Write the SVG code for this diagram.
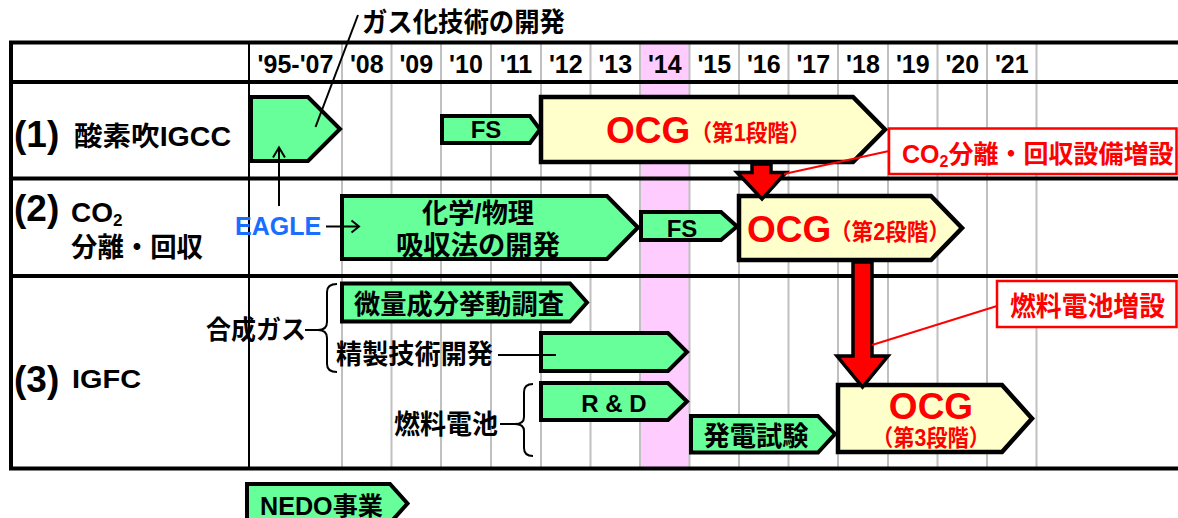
<svg xmlns="http://www.w3.org/2000/svg" width="1178" height="518" viewBox="0 0 1178 518">
<style>
.t{font-family:"Liberation Sans","Noto Sans CJK JP",sans-serif;font-weight:bold;fill:#000}
.yr{font-size:25px;text-anchor:middle}
.g{fill:#66FF99;stroke:#000;stroke-width:4}
.y{fill:#FFFFCC;stroke:#000;stroke-width:4.5}
.grid{stroke:#C0C0C0;stroke-width:2}
.rule{stroke:#000;stroke-width:4}
.red{fill:#FF0000}
.ra{fill:#FF0000;stroke:#000;stroke-width:3.5;stroke-linejoin:miter}
.cl{stroke:#FF0000;stroke-width:2;fill:none}
.bl{stroke:#000;stroke-width:2;fill:none}
.cb{fill:#fff;stroke:#FF0000;stroke-width:2.5}
</style>
<rect width="1178" height="518" fill="#fff"/>
<g id="table">
<rect x="640" y="42" width="49.5" height="426" fill="#FFCCFF"/>
<g class="grid">
<line x1="342" y1="42" x2="342" y2="468"/><line x1="391.5" y1="42" x2="391.5" y2="468"/>
<line x1="441" y1="42" x2="441" y2="468"/><line x1="491" y1="42" x2="491" y2="468"/>
<line x1="541" y1="42" x2="541" y2="468"/><line x1="590.5" y1="42" x2="590.5" y2="468"/>
<line x1="640" y1="42" x2="640" y2="468"/><line x1="689.5" y1="42" x2="689.5" y2="468"/>
<line x1="739" y1="42" x2="739" y2="468"/><line x1="788.5" y1="42" x2="788.5" y2="468"/>
<line x1="838" y1="42" x2="838" y2="468"/><line x1="888" y1="42" x2="888" y2="468"/>
<line x1="937.5" y1="42" x2="937.5" y2="468"/><line x1="987" y1="42" x2="987" y2="468"/>
<line x1="1036.5" y1="42" x2="1036.5" y2="468"/>
</g>
<line x1="249" y1="42" x2="249" y2="468" stroke="#000" stroke-width="2"/>
<g class="rule">
<line x1="9" y1="42.5" x2="1178" y2="42.5"/><line x1="11" y1="82" x2="1178" y2="82"/>
<line x1="11" y1="178.5" x2="1178" y2="178.5"/><line x1="11" y1="276" x2="1178" y2="276"/>
<line x1="9" y1="468.5" x2="1178" y2="468.5"/><line x1="11" y1="42" x2="11" y2="470"/>
</g>
<g class="t yr">
<text x="295.5" y="73">'95-'07</text><text x="366.8" y="73">'08</text><text x="416.3" y="73">'09</text>
<text x="466" y="73">'10</text><text x="516" y="73">'11</text><text x="565.8" y="73">'12</text>
<text x="615.3" y="73">'13</text><text x="664.8" y="73">'14</text><text x="714.3" y="73">'15</text>
<text x="763.8" y="73">'16</text><text x="813.3" y="73">'17</text><text x="863" y="73">'18</text>
<text x="912.8" y="73">'19</text><text x="962.3" y="73">'20</text><text x="1011.8" y="73">'21</text>
</g>
</g>
<g id="row-labels">
<text class="t" x="14" y="147" font-size="37">(1)</text>
<text class="t" x="74" y="146" font-size="27" textLength="157" lengthAdjust="spacingAndGlyphs">酸素吹IGCC</text>
<text class="t" x="14" y="221" font-size="37">(2)</text>
<text class="t" x="71" y="222" font-size="28">CO<tspan font-size="17" dy="4">2</tspan></text>
<text class="t" x="71" y="257" font-size="27" textLength="132" lengthAdjust="spacingAndGlyphs">分離・回収</text>
<text class="t" x="14" y="392" font-size="37">(3)</text>
<text class="t" x="72" y="388" font-size="26" textLength="69" lengthAdjust="spacingAndGlyphs">IGFC</text>
<text class="t" x="206" y="339" font-size="26" textLength="100" lengthAdjust="spacingAndGlyphs">合成ガス</text>
<text class="t" x="336" y="364" font-size="27" textLength="157" lengthAdjust="spacingAndGlyphs">精製技術開発</text>
<text class="t" x="394" y="434" font-size="27" textLength="104" lengthAdjust="spacingAndGlyphs">燃料電池</text>
<text class="t" x="362" y="32" font-size="27" textLength="203" lengthAdjust="spacingAndGlyphs">ガス化技術の開発</text>
<text class="t" x="235" y="235" font-size="25" style="fill:#1A6EFF">EAGLE</text>
</g>
<g id="n-gasification"><polygon class="g" points="251,97 308,97 340,129 308,161 251,161"/></g>
<g id="n-fs1"><polygon class="g" points="442,116 530,116 540,129.5 530,143 442,143"/>
<text class="t" x="486" y="138" font-size="24" text-anchor="middle">FS</text></g>
<g id="n-ocg1"><polygon class="y" points="541,97 853,97 885,129.5 853,162 541,162"/>
<text class="t red" x="606" y="143" font-size="37">OCG</text>
<text class="t red" x="690.5" y="141" font-size="23" textLength="120" lengthAdjust="spacingAndGlyphs">（第1段階）</text></g>
<g id="n-absorb"><polygon class="g" points="342,196 607,196 638,227.5 607,259 342,259"/>
<text class="t" x="478" y="222.5" font-size="27" text-anchor="middle" textLength="112" lengthAdjust="spacingAndGlyphs">化学/物理</text>
<text class="t" x="478" y="254.5" font-size="27" text-anchor="middle" textLength="164" lengthAdjust="spacingAndGlyphs">吸収法の開発</text></g>
<g id="n-fs2"><polygon class="g" points="641,212 721,212 737,226.5 721,240 641,240"/>
<text class="t" x="682" y="236.5" font-size="24" text-anchor="middle">FS</text></g>
<g id="n-ocg2"><polygon class="y" points="739,196 931,196 962,228 931,260 739,260"/>
<text class="t red" x="747" y="242" font-size="37">OCG</text>
<text class="t red" x="830" y="240" font-size="23" textLength="120" lengthAdjust="spacingAndGlyphs">（第2段階）</text></g>
<g id="n-trace"><polygon class="g" points="342,283.5 570,283.5 587,302.5 570,321.5 342,321.5"/>
<text class="t" x="354" y="313.5" font-size="27" textLength="210" lengthAdjust="spacingAndGlyphs">微量成分挙動調査</text></g>
<g id="n-purify"><polygon class="g" points="541,333 668,333 687,352 668,371 541,371"/></g>
<g id="n-rd"><polygon class="g" points="541,383 668,383 687,401.5 668,420 541,420"/>
<text class="t" x="614" y="411.5" font-size="24" text-anchor="middle">R &amp; D</text></g>
<g id="n-powertest"><polygon class="g" points="691,416 818,416 835,434 818,452.5 691,452.5"/>
<text class="t" x="756" y="445.5" font-size="27" text-anchor="middle" textLength="105" lengthAdjust="spacingAndGlyphs">発電試験</text></g>
<g id="n-ocg3"><polygon class="y" points="838,385 1002,385 1032,418.5 1002,452 838,452"/>
<text class="t red" x="931" y="418.5" font-size="37" text-anchor="middle">OCG</text>
<text class="t red" x="931" y="445.5" font-size="23" text-anchor="middle" textLength="118" lengthAdjust="spacingAndGlyphs">（第3段階）</text></g>
<g id="n-legend"><polygon class="g" points="247,484 390,484 407.5,503.5 390,523 247,523"/>
<text class="t" x="260" y="514.5" font-size="25" textLength="123" lengthAdjust="spacingAndGlyphs">NEDO事業</text></g>
<g id="connectors">
<line class="bl" x1="315.5" y1="127" x2="358" y2="15"/>
<line class="bl" x1="279" y1="206" x2="279" y2="148"/>
<polyline class="bl" points="273,157.5 279,147.5 285,157.5"/>
<line class="bl" x1="326" y1="226.5" x2="359" y2="226.5"/>
<polyline class="bl" points="351.5,220.5 359,226.5 351.5,232.5"/>
<path class="bl" d="M337,284 Q327,284 327,292 L327,322 Q327,330 318,330 Q327,330 327,338 L327,364 Q327,372 337,372"/>
<line class="bl" x1="305" y1="330" x2="318" y2="330"/>
<line class="bl" x1="498" y1="355" x2="556" y2="355"/>
<path class="bl" d="M533,384 Q524,384 524,392 L524,417 Q524,424 515,424 Q524,424 524,431 L524,448 Q524,456 533,456"/>
<line class="bl" x1="500" y1="424" x2="515" y2="424"/>
<polygon class="ra" points="752,164 771,164 771,172.5 786,172.5 762,199 737,172.5 752,172.5"/>
<polygon class="ra" points="853,262 872,262 872,356 888,356 862.5,387 837,356 853,356"/>
<line class="cl" x1="889" y1="151" x2="784" y2="174"/>
<line class="cl" x1="997" y1="306" x2="872" y2="345"/>
</g>
<g id="callout-co2">
<rect class="cb" x="889" y="128.5" width="287.5" height="45.5"/>
<text class="t red" x="902" y="163" font-size="25">CO<tspan font-size="16" dy="4">2</tspan><tspan dy="-4">分離・回収設備増設</tspan></text>
</g>
<g id="callout-fc">
<rect class="cb" x="997" y="281" width="179.5" height="46"/>
<text class="t red" x="1010" y="315.5" font-size="27" textLength="155" lengthAdjust="spacingAndGlyphs">燃料電池増設</text>
</g>
</svg>
